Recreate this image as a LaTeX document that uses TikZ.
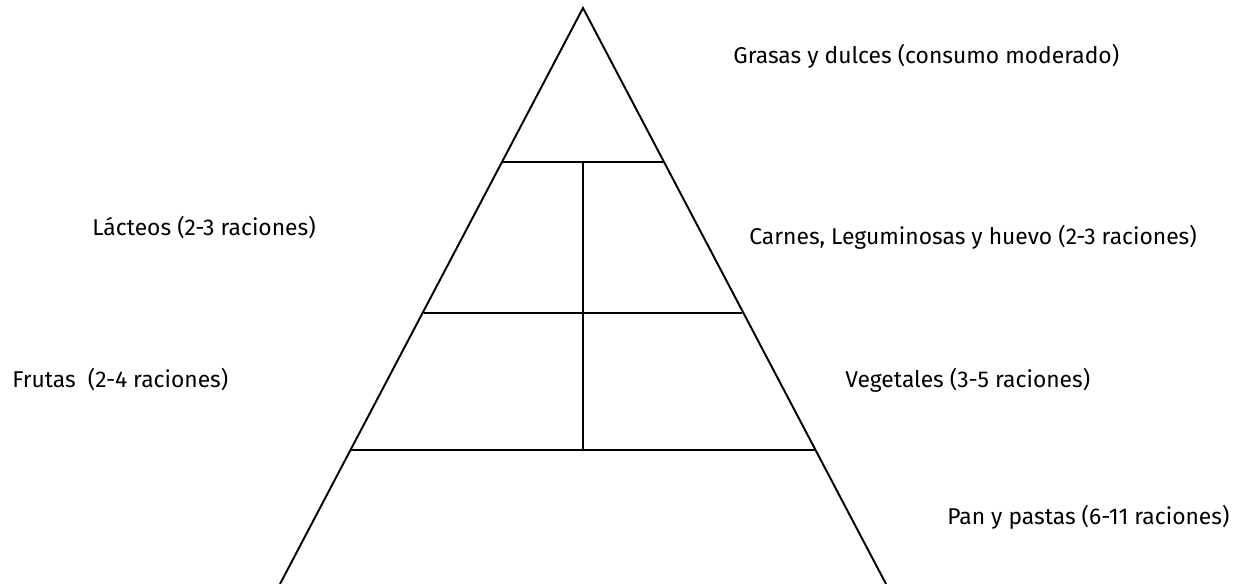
\documentclass[tikz,border=0pt]{standalone}
\usepackage{fontspec}
\setmainfont{Fira Sans}
\usetikzlibrary{positioning, calc}

\begin{document}
\begin{tikzpicture}[
        x=0.02cm, y=-0.02cm,
        wall/.style={line width=1.1pt},
        lbl/.style={font=\fontsize{13}{16}\selectfont, anchor=west, inner sep=0pt},
      ]
        \useasboundingbox (0,0) rectangle (1256,584);
        % pyramid outline
        \coordinate (apex) at (583,8);
        \coordinate (bl) at (280,584);
        \coordinate (br) at (886,584);
        \draw[wall] (bl) -- (apex) -- (br);
        % levels
        \draw[wall] (502,162) -- (663,162);
        \draw[wall] (424,313) -- (742,313);
        \draw[wall] (351,450) -- (815,450);
        \draw[wall] (583,162) -- (583,450);
        % labels
        \node[lbl] (grasas) at (733,56) {Grasas y dulces (consumo moderado)};
        \node[lbl] (lacteos) at (92,228) {Lácteos (2-3 raciones)};
        \node[lbl] (carnes) at (749,237) {Carnes, Leguminosas y huevo (2-3 raciones)};
        \node[lbl] (frutas) at (12,380) {Frutas~ (2-4 raciones)};
        \node[lbl] (vegetales) at (845,380) {Vegetales (3-5 raciones)};
        \node[lbl] (pan) at (947,517) {Pan y pastas (6-11 raciones)};
      \end{tikzpicture}
\end{document}
